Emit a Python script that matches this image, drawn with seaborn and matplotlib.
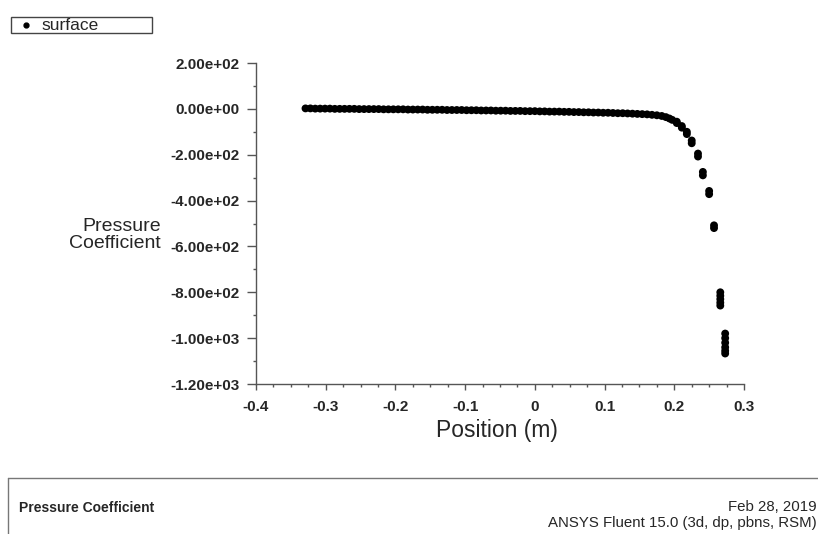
import matplotlib
matplotlib.use("Agg")
import matplotlib.pyplot as plt
import seaborn as sns
import pandas as pd
from matplotlib.patches import Rectangle
from matplotlib.lines import Line2D
from matplotlib.ticker import MultipleLocator, FuncFormatter

# ---- data ----
position = [
    -0.329, -0.322, -0.315, -0.308, -0.301, -0.294, -0.287, -0.280, -0.273, -0.266,
    -0.259, -0.252, -0.245, -0.238, -0.231, -0.224, -0.217, -0.210, -0.203, -0.196,
    -0.189, -0.182, -0.175, -0.168, -0.161, -0.154, -0.147, -0.140, -0.133, -0.126,
    -0.119, -0.112, -0.105, -0.098, -0.091, -0.084, -0.077, -0.070, -0.063, -0.056,
    -0.049, -0.042, -0.035, -0.028, -0.021, -0.014, -0.007, 0.000, 0.007, 0.014,
    0.021, 0.028, 0.035, 0.042, 0.049, 0.056, 0.063, 0.070, 0.077, 0.084,
    0.091, 0.098, 0.105, 0.112, 0.119, 0.126, 0.133, 0.140, 0.147, 0.154,
    0.161, 0.168, 0.175, 0.182, 0.188, 0.193, 0.197,
    0.2036, 0.2036, 0.2108, 0.2108, 0.218, 0.218, 0.225, 0.225,
    0.234, 0.234, 0.241, 0.241, 0.250, 0.250, 0.257, 0.257,
    0.266, 0.266, 0.266, 0.266, 0.266,
    0.273, 0.273, 0.273, 0.273, 0.273, 0.273,
]
pressure_coefficient = [
    2, 2, 1, 1, 1, 1, 0, 0, 0, 0,
    0, -1, -1, -1, -1, -1, -2, -2, -2, -2,
    -2, -3, -3, -3, -3, -4, -4, -4, -4, -5,
    -5, -5, -5, -6, -6, -6, -7, -7, -7, -8,
    -8, -8, -9, -9, -9, -10, -10, -10, -11, -11,
    -12, -12, -12, -13, -13, -14, -14, -15, -15, -16,
    -16, -17, -17, -18, -19, -19, -20, -21, -22, -23,
    -24, -26, -28, -31, -36, -42, -48,
    -56, -62, -75, -82, -100, -110, -138, -150,
    -195, -208, -275, -290, -358, -372, -508, -520,
    -800, -815, -830, -845, -858,
    -980, -1000, -1020, -1040, -1055, -1067,
]
y_ticks = [200, 0, -200, -400, -600, -800, -1000, -1200]
x_ticks = [-0.4, -0.3, -0.2, -0.1, 0, 0.1, 0.2, 0.3]

df = pd.DataFrame({"Position (m)": position, "Pressure Coefficient": pressure_coefficient})

sns.set_theme(style="white")
plt.rcParams["font.family"] = ["Liberation Sans", "DejaVu Sans"]

fig = plt.figure(figsize=(8.18, 5.34), dpi=100)
ax = fig.add_axes([256 / 818, 1 - 384 / 534, (744 - 256) / 818, (384 - 63) / 534])

sns.scatterplot(data=df, x="Position (m)", y="Pressure Coefficient", ax=ax,
                color="black", s=32, edgecolor="none", linewidth=0, legend=False)

ax.set_xlim(-0.4, 0.3)
ax.set_ylim(-1200, 200)
ax.set_xticks(x_ticks)
ax.set_yticks(y_ticks)
ax.xaxis.set_minor_locator(MultipleLocator(0.025))
ax.yaxis.set_minor_locator(MultipleLocator(100))

def xfmt(v, p):
    if abs(v) < 1e-9:
        return "0"
    return f"{v:.1f}"

def yfmt(v, p):
    if abs(v) < 1e-9:
        return "0.00e+00"
    return f"{v:.2e}"

ax.xaxis.set_major_formatter(FuncFormatter(xfmt))
ax.yaxis.set_major_formatter(FuncFormatter(yfmt))

axis_col = "#555555"
for s in ["top", "right"]:
    ax.spines[s].set_visible(False)
for s in ["left", "bottom"]:
    ax.spines[s].set_color(axis_col)
    ax.spines[s].set_linewidth(1.0)

ax.tick_params(axis="y", which="major", direction="out", length=6.5, width=1,
               color=axis_col, labelsize=11, pad=5.5, left=True)
ax.tick_params(axis="y", which="minor", direction="out", length=2.5, width=1,
               color=axis_col, left=True)
ax.tick_params(axis="x", which="major", direction="out", length=4.5, width=1,
               color=axis_col, labelsize=11, pad=7, bottom=True)
ax.tick_params(axis="x", which="minor", direction="out", length=2.5, width=1,
               color=axis_col, bottom=True)
for lab in ax.get_xticklabels() + ax.get_yticklabels():
    lab.set_fontweight("bold")

ax.set_xlabel("")
ax.set_ylabel("")
fig.text(497 / 818, 1 - 431 / 534, "Position (m)", ha="center", va="center", fontsize=16.5)
fig.text(161 / 818, 1 - 235 / 534, "Pressure\nCoefficient", ha="right", va="center",
         multialignment="right", fontsize=14, linespacing=1.05)

# legend box
fig.patches.append(Rectangle((11 / 818, 1 - 33 / 534), 141 / 818, 16 / 534,
                             transform=fig.transFigure, fill=False,
                             edgecolor="#444444", linewidth=1))
fig.lines.append(Line2D([26 / 818], [1 - 25 / 534], transform=fig.transFigure,
                        marker="o", markersize=3.5, color="black", linestyle="none"))
fig.text(41 / 818, 1 - 25 / 534, "surface", ha="left", va="center", fontsize=12.5)

# bottom info panel
fig.lines.append(Line2D([8 / 818, 1.0], [1 - 478 / 534, 1 - 478 / 534],
                        transform=fig.transFigure, color="#777777", linewidth=1))
fig.lines.append(Line2D([8 / 818, 8 / 818], [1 - 478 / 534, 0],
                        transform=fig.transFigure, color="#777777", linewidth=1))
fig.text(19 / 818, 1 - 508 / 534, "Pressure Coefficient", ha="left", va="center",
         fontsize=10, fontweight="bold")
fig.text(817 / 818, 1 - 507 / 534, "Feb 28, 2019", ha="right", va="center", fontsize=10.8)
fig.text(817 / 818, 1 - 523 / 534, "ANSYS Fluent 15.0 (3d, dp, pbns, RSM)", ha="right",
         va="center", fontsize=10.8)

fig.savefig("out.png", dpi=100)
